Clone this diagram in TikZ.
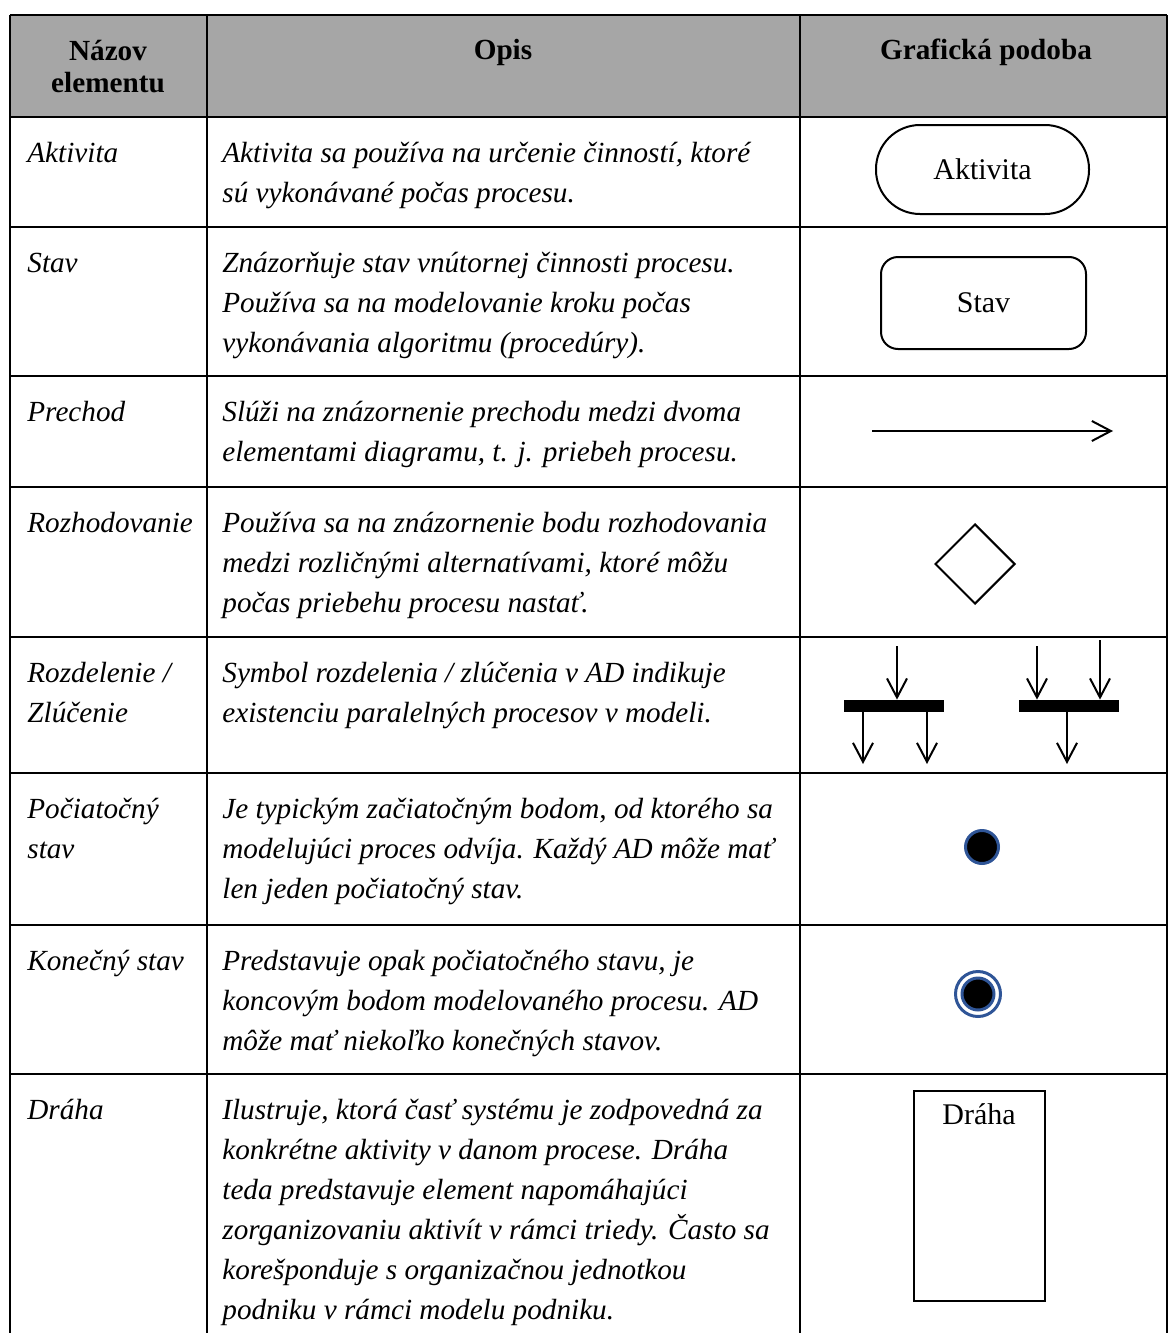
\documentclass[tikz,border=0pt]{standalone}
\usepackage{fontspec}
\setmainfont{Liberation Serif}
\usetikzlibrary{arrows.meta,shapes.geometric}
\definecolor{headgray}{RGB}{166,166,166}
\definecolor{ringblue}{RGB}{47,85,151}

\begin{document}
\begin{tikzpicture}[x=0.5pt,y=-0.5pt,
  rule/.style={line width=1.4pt},
  % multi-line nodes are placed by the baseline of their last line
  headtext/.style={anchor=base, inner sep=0pt, align=center, font=\fontsize{14.6}{16}\selectfont\bfseries},
  nametext/.style={anchor=base west, inner sep=0pt, align=left, font=\fontsize{14.6}{20}\selectfont\itshape},
  bodytext/.style={anchor=base west, inner sep=0pt, align=left, font=\fontsize{14.6}{20}\selectfont\itshape},
  glyph/.style={draw, line width=1pt, inner sep=0pt, font=\fontsize{15}{16}\selectfont},
  flow/.style={line width=1pt, -{Straight Barb[length=9.5pt,width=10pt,line width=1pt]}},
  barstyle/.style={fill=black, draw=none, inner sep=0pt, minimum width=50pt, minimum height=6pt},
  dot/.style={circle, fill=black, draw=ringblue, line width=1.5pt, inner sep=0pt},
]
\useasboundingbox (0,0) rectangle (1170,1333);

% header band
\fill[headgray] (10,15) rectangle (1167,117);

% table rules
\draw[rule] (10,15) -- (1167,15);
\foreach \y in {117,227,376,487,637,773,925,1074}
  \draw[rule] (10,\y) -- (1167,\y);
\foreach \x in {10,207,800,1167}
  \draw[rule] (\x,15) -- (\x,1333);

% header
\node[headtext] (h1) at (108,92) {Názov\\elementu};
\node[headtext] (h2) at (503,59) {Opis};
\node[headtext] (h3) at (986,59) {Grafická podoba};

% element names
\node[nametext] (n1) at (27,162) {Aktivita};
\node[nametext] (n2) at (27,272) {Stav};
\node[nametext] (n3) at (27,421) {Prechod};
\node[nametext] (n4) at (27,532) {Rozhodovanie};
\node[nametext] (n5) at (27,722) {Rozdelenie /\\Zlúčenie};
\node[nametext] (n6) at (27,858) {Počiatočný\\stav};
\node[nametext] (n7) at (27,970) {Konečný stav};
\node[nametext] (n8) at (27,1119) {Dráha};

% descriptions
\node[bodytext] (d1) at (222,202) {Aktivita sa používa na určenie činností, ktoré\\sú vykonávané počas procesu.};
\node[bodytext] (d2) at (222,352) {Znázorňuje stav vnútornej činnosti procesu.\\Používa sa na modelovanie kroku počas\\vykonávania algoritmu (procedúry).};
\node[bodytext] (d3) at (222,461) {Slúži na znázornenie prechodu medzi dvoma\\elementami diagramu, t. j. priebeh procesu.};
\node[bodytext] (d4) at (222,612) {Používa sa na znázornenie bodu rozhodovania\\medzi rozličnými alternatívami, ktoré môžu\\počas priebehu procesu nastať.};
\node[bodytext] (d5) at (222,722) {Symbol rozdelenia / zlúčenia v AD indikuje\\existenciu paralelných procesov v modeli.};
\node[bodytext] (d6) at (222,898) {Je typickým začiatočným bodom, od ktorého sa\\modelujúci proces odvíja. Každý AD môže mať\\len jeden počiatočný stav.};
\node[bodytext] (d7) at (222,1050) {Predstavuje opak počiatočného stavu, je\\koncovým bodom modelovaného procesu. AD\\môže mať niekoľko konečných stavov.};
\node[bodytext] (d8) at (222,1319) {Ilustruje, ktorá časť systému je zodpovedná za\\konkrétne aktivity v danom procese. Dráha\\teda predstavuje element napomáhajúci\\zorganizovaniu aktivít v rámci triedy. Často sa\\korešponduje s organizačnou jednotkou\\podniku v rámci modelu podniku.};

% activity
\node[glyph, rounded corners=22pt, minimum width=106.5pt, minimum height=44.5pt] (act) at (982.5,169.5) {Aktivita};

% state
\node[glyph, rounded corners=8.5pt, minimum width=102.5pt, minimum height=46pt] (st) at (983.5,303) {Stav};

% transition
\coordinate (ta) at (872,431);
\coordinate (tb) at (1113,431);
\draw[flow] (ta) -- (tb);

% decision
\node[glyph, diamond, minimum width=40pt, minimum height=40pt] (dec) at (975,564) {};

% fork
\node[barstyle] (fork) at (894,706) {};
\coordinate (fin) at (897,646);
\coordinate (fo1) at (863,764);
\coordinate (fo2) at (927,764);
\draw[flow] (fin) -- (fin |- fork.north);
\draw[flow] (fo1 |- fork.south) -- (fo1);
\draw[flow] (fo2 |- fork.south) -- (fo2);

% join
\node[barstyle] (join) at (1069,706) {};
\coordinate (ji1) at (1037,646);
\coordinate (ji2) at (1100,640);
\coordinate (jo) at (1067,764);
\draw[flow] (ji1) -- (ji1 |- join.north);
\draw[flow] (ji2) -- (ji2 |- join.north);
\draw[flow] (jo |- join.south) -- (jo);

% initial state
\node[dot, minimum size=16.5pt] (init) at (982,847) {};

% final state
\node[circle, draw=ringblue, line width=1.5pt, minimum size=22.5pt, inner sep=0pt] (fin1) at (978,994) {};
\node[dot, minimum size=16pt] (fin2) at (978,994) {};

% swimlane
\node[glyph, line width=1.3pt, minimum width=65.5pt, minimum height=105pt] (lane) at (979.5,1196) {};
\node[anchor=base, inner sep=0pt, font=\fontsize{15}{16}\selectfont] (lanelbl) at (979,1124) {Dráha};
\end{tikzpicture}
\end{document}
